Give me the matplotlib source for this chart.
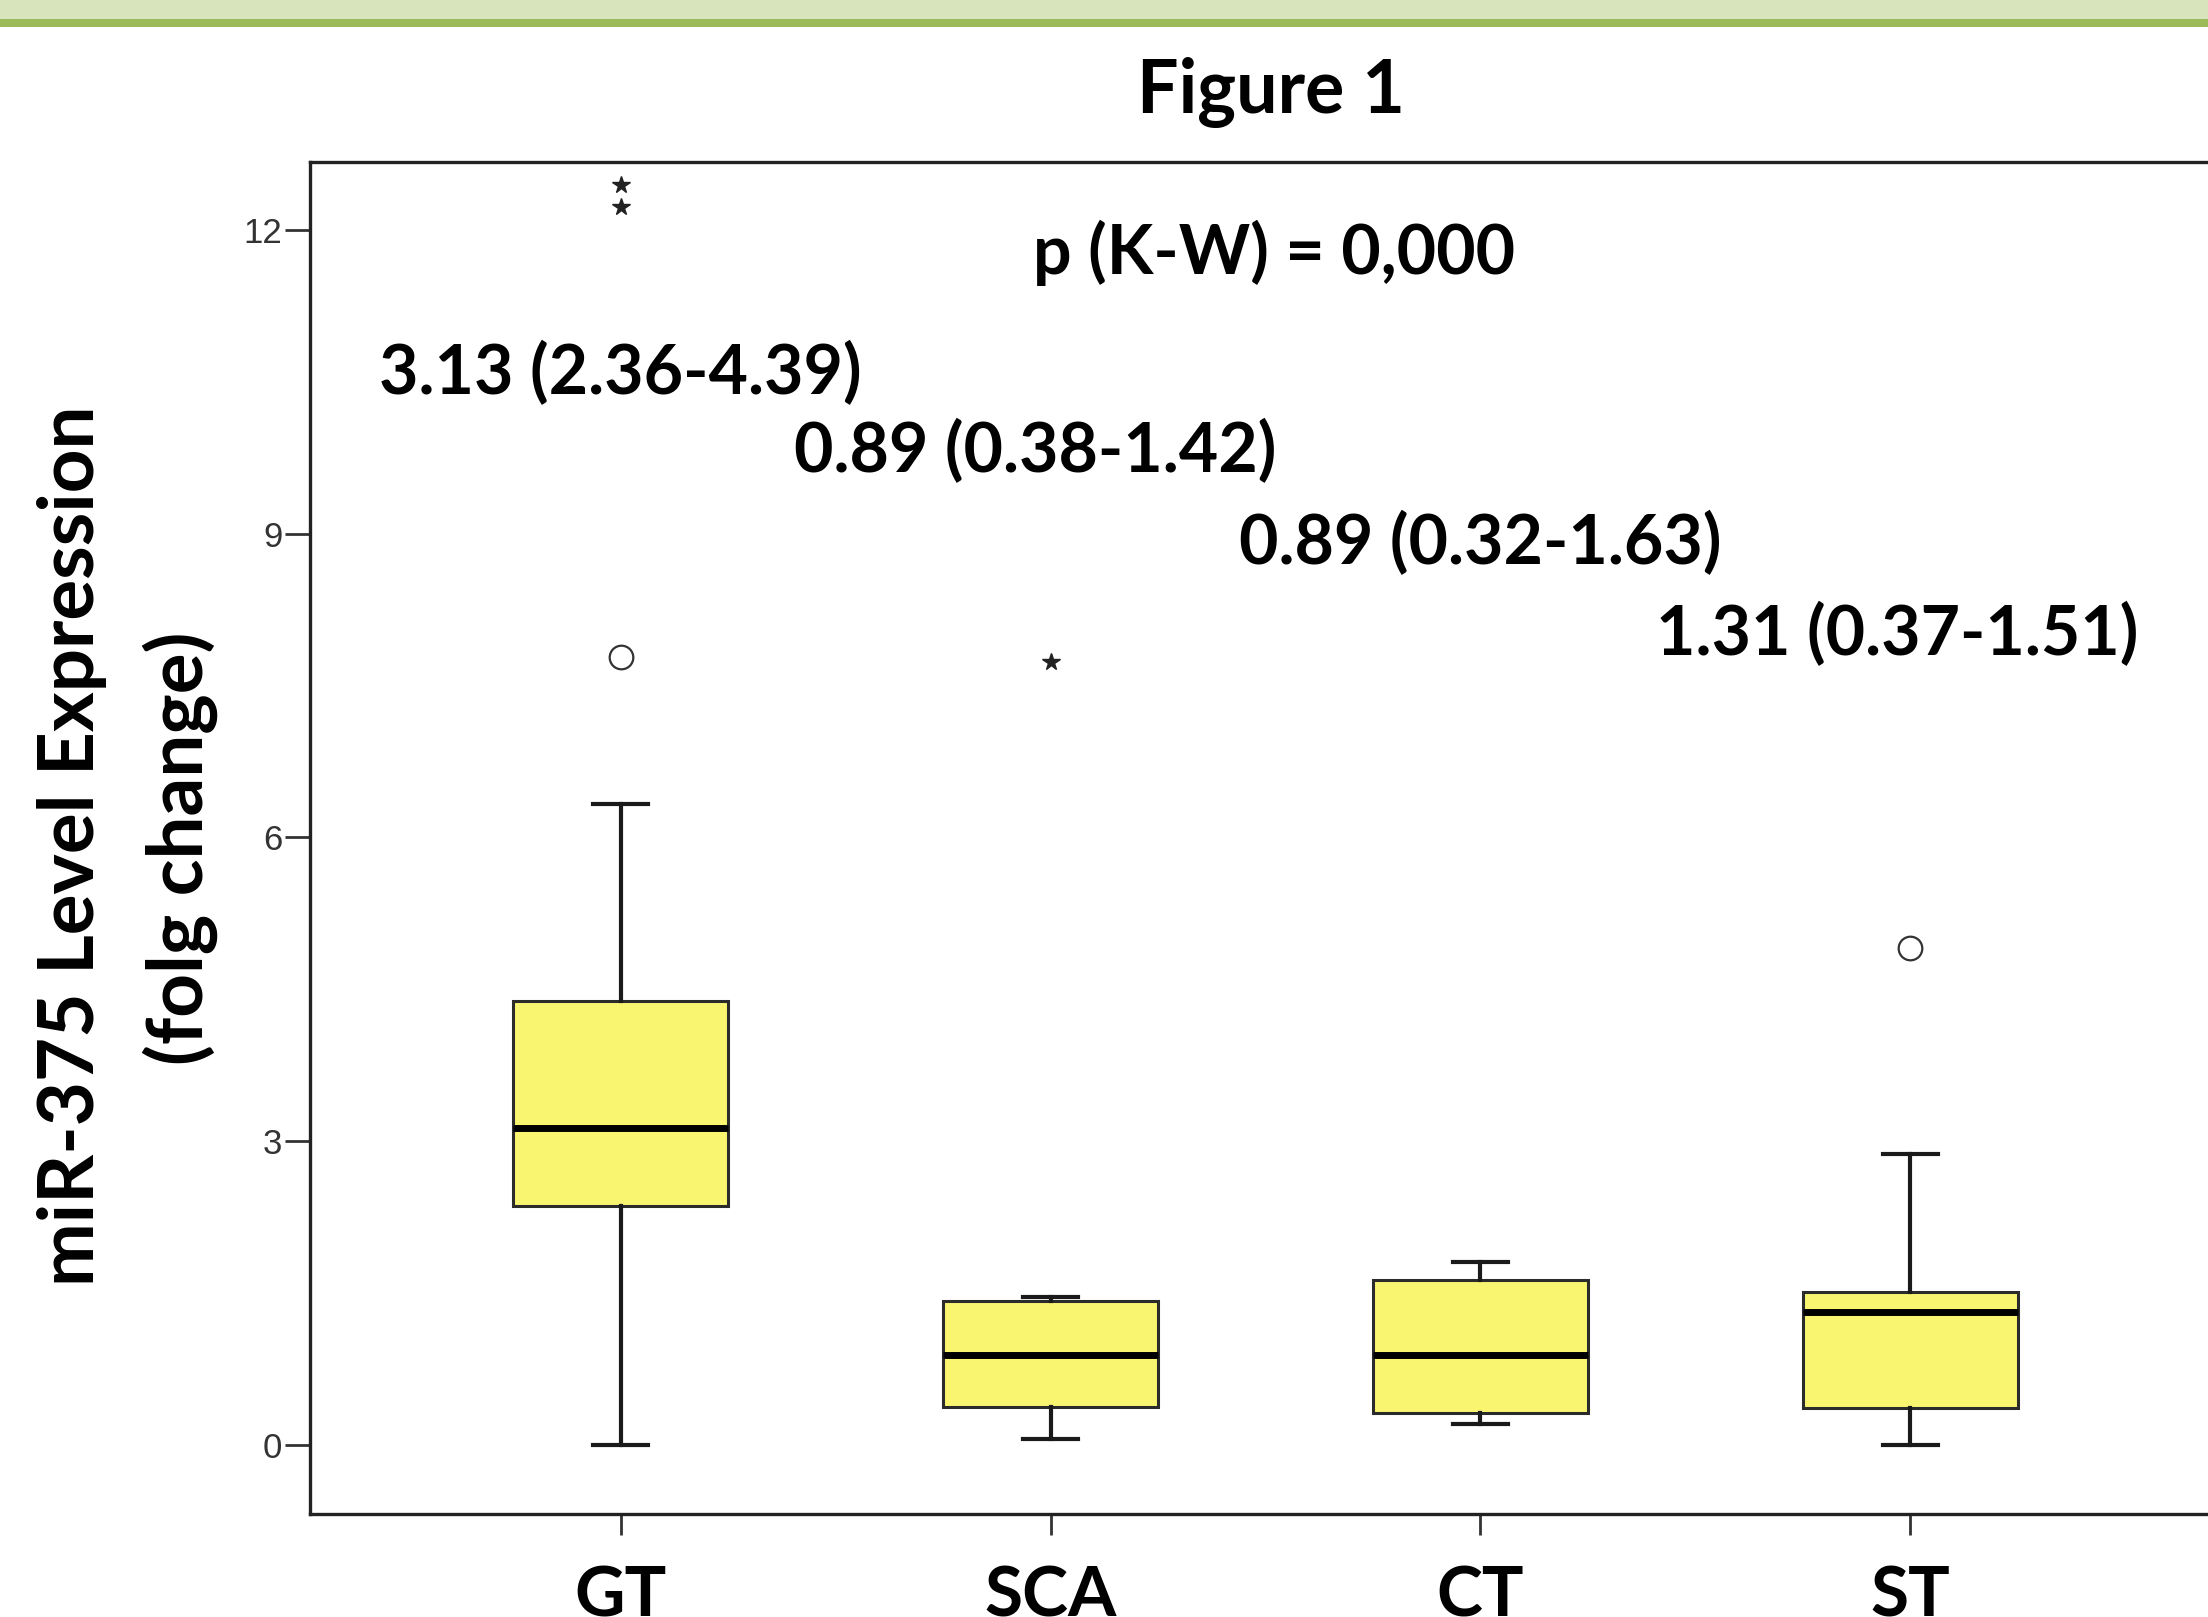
import matplotlib
matplotlib.use('Agg')
import matplotlib.pyplot as plt
from matplotlib.patches import Rectangle

# values
groups = ['GT', 'SCA', 'CT', 'ST']
medians = [3.13, 0.89, 0.89, 1.31]
q1 = [2.36, 0.38, 0.32, 0.37]
q3 = [4.39, 1.42, 1.63, 1.51]
whis_lo = [0.0, 0.06, 0.21, 0.0]
whis_hi = [6.33, 1.46, 1.81, 2.87]
outliers = [[7.78], [], [], [4.91]]         # circles
extremes = [[12.23, 12.44], [7.73], [], []]  # stars
label_y = [10.58, 9.81, 8.90, 8.0]
label_dx = [0.0, -0.035, 0.0, -0.03]
yticks = [0, 3, 6, 9, 12]

BOLD = ['Lato', 'DejaVu Sans']

fig = plt.figure(figsize=(22.08, 16.17), dpi=100)

# green header band
fig.add_artist(Rectangle((0, 1 - 19 / 1617), 1, 19 / 1617, transform=fig.transFigure,
                         facecolor='#d8e4bc', edgecolor='none'))
fig.add_artist(Rectangle((0, 1 - 27 / 1617), 1, 8 / 1617, transform=fig.transFigure,
                         facecolor='#9bbb59', edgecolor='none'))

ax = fig.add_axes([310 / 2208, 103 / 1617, 1911 / 2208, 1352 / 1617])

pos = list(range(1, len(groups) + 1))
stats = []
for i, g in enumerate(groups):
    stats.append({'med': medians[i], 'q1': q1[i], 'q3': q3[i],
                  'whislo': whis_lo[i], 'whishi': whis_hi[i],
                  'fliers': outliers[i], 'label': g})

ax.bxp(stats, positions=pos, widths=0.5, capwidths=0.128, patch_artist=True,
       boxprops=dict(facecolor='#f9f571', edgecolor='#2b2b2b', linewidth=2.2),
       medianprops=dict(color='black', linewidth=5),
       whiskerprops=dict(color='#1a1a1a', linewidth=3),
       capprops=dict(color='#1a1a1a', linewidth=3),
       flierprops=dict(marker='o', markersize=17, markerfacecolor='white',
                       markeredgecolor='#333333', markeredgewidth=1.6))

for i, vals in enumerate(extremes):
    if vals:
        ax.plot([pos[i]] * len(vals), vals, ls='none', marker='*', ms=13,
                color='#222222')

for i in range(len(groups)):
    txt = f'{medians[i]:.2f} ({q1[i]:.2f}-{q3[i]:.2f})'
    ax.text(pos[i] + label_dx[i], label_y[i], txt, ha='center', va='center',
            fontsize=49, fontweight='bold', family=BOLD)

ax.text(2.52, 11.77, 'p (K-W) = 0,000', ha='center', va='center',
        fontsize=49, fontweight='bold', family=BOLD)

ax.set_xlim(0.277, 4.723)
ax.set_ylim(-0.68, 12.67)
ax.set_xticks(pos)
ax.set_xticklabels(groups, fontsize=50, fontweight='bold', family=BOLD)
ax.set_yticks(yticks)
ax.set_yticklabels([str(t) for t in yticks], fontsize=25, color='#333333',
                   family=['Liberation Sans', 'DejaVu Sans'])
ax.tick_params(axis='y', length=18, width=2, pad=2, color='#333333')
ax.tick_params(axis='x', length=15, width=2, pad=22, color='#333333')
for s in ax.spines.values():
    s.set_linewidth(2.4)
    s.set_color('#222222')

fig.text(1271 / 2208, 1 - 92 / 1617, 'Figure 1', ha='center', va='center',
         fontsize=53, fontweight='bold', family=BOLD)

fig.text(72 / 2208, 1 - 846 / 1617, 'miR-375 Level Expression', rotation=90,
         ha='center', va='center', fontsize=55, fontweight='bold', family=BOLD)
fig.text(180 / 2208, 1 - 848 / 1617, '(folg change)', rotation=90,
         ha='center', va='center', fontsize=55, fontweight='bold', family=BOLD)

fig.savefig('out.png', dpi=100)
